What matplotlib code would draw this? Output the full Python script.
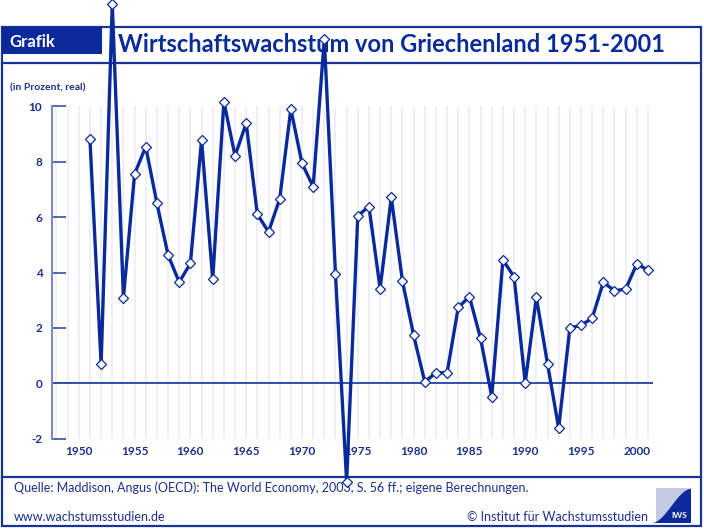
import numpy as np
import matplotlib
matplotlib.use("Agg")
import matplotlib.pyplot as plt
from matplotlib.patches import Rectangle, Polygon

# data: real GDP growth Greece (percent)
years = list(range(1951, 2002))
growth = [8.81, 0.70, 13.7, 3.09, 7.56, 8.54, 6.50, 4.63, 3.65, 4.33,
          8.78, 3.75, 10.17, 8.21, 9.39, 6.10, 5.47, 6.65, 9.90, 7.94,
          7.10, 12.43, 3.93, -3.56, 6.05, 6.38, 3.42, 6.71, 3.69, 1.74,
          0.05, 0.38, 0.38, 2.74, 3.13, 1.62, -0.48, 4.45, 3.85, 0.02,
          3.10, 0.70, -1.62, 2.00, 2.09, 2.35, 3.65, 3.34, 3.40, 4.31,
          4.09]
y_ticks = [-2, 0, 2, 4, 6, 8, 10]
x_ticks = [1950, 1955, 1960, 1965, 1970, 1975, 1980, 1985, 1990, 1995, 2000]

title = "Wirtschaftswachstum von Griechenland 1951-2001"
source = "Quelle: Maddison, Angus (OECD): The World Economy, 2003, S. 56 ff.; eigene Berechnungen."

blue = "#1a3399"
line_blue = "#0a2a9b"
text_blue = "#1a2f8f"
font = "Lato"

W, H = 704, 530
fig = plt.figure(figsize=(W / 100, H / 100), dpi=100)

# overlay in pixel coords for frame and texts
bg = fig.add_axes([0, 0, 1, 1], zorder=0)
bg.set_xlim(0, W)
bg.set_ylim(H, 0)
bg.axis("off")

# frame
bg.add_patch(Rectangle((2, 27), 699, 499, fill=False, ec=blue, lw=1.6))
bg.add_patch(Rectangle((2, 27), 100, 27, fc="#0a2a9b", ec="none"))
bg.plot([2, 701], [63, 63], color=blue, lw=1.6)
bg.plot([2, 701], [477, 477], color=blue, lw=1.6)

bg.text(9, 42, "Grafik", color="white", fontsize=12, fontweight="bold",
        family=font, va="center", ha="left")
bg.text(118, 45, title, color="#0a2a9b", fontsize=17, fontweight="bold",
        family=font, va="center", ha="left")
bg.text(10, 88, "(in Prozent, real)", color=text_blue, fontsize=7.5,
        fontweight="bold", family=font, va="center", ha="left")

bg.text(14, 488, source, color=text_blue, fontsize=9, family=font,
        va="center", ha="left")
bg.text(14, 517, "www.wachstumsstudien.de", color=text_blue, fontsize=9,
        family=font, va="center", ha="left")
bg.text(648, 517, "\u00a9 Institut f\u00fcr Wachstumsstudien", color=text_blue,
        fontsize=9, family=font, va="center", ha="right")

# logo
bg.add_patch(Rectangle((656, 488), 35, 35, fc="#c5cae3", ec="none"))
t = np.linspace(0, 1, 40)
s = t * t * (3 - 2 * t)
cx = 652 + 39 * t
cy = 523 - 34 * s
logo = np.column_stack([np.r_[cx, 691], np.r_[cy, 523]])
bg.add_patch(Polygon(logo, closed=True, fc="#0a2a9b", ec="none"))
bg.text(679, 515, "IWS", color="white", fontsize=6, fontweight="bold",
        family=font, va="center", ha="center")

# chart
ax = fig.add_axes([52 / W, 1 - 438.7 / H, 601 / W, 332.4 / H], zorder=5)
ax.patch.set_visible(False)
ax.set_xlim(1947.6, 2001.45)
ax.set_ylim(-2, 10)

for yr in range(1948, 2002):
    ax.axvline(yr, color="#ebebf5", lw=1.1, zorder=1)
ax.axhline(0, color="#3050b0", lw=1.4, zorder=2)

ax.plot(years, growth, color=line_blue, lw=2.4, marker="D", ms=5,
        mfc="white", mec=line_blue, mew=0.9, clip_on=False, zorder=4)

for sp in ["top", "right", "bottom"]:
    ax.spines[sp].set_visible(False)
ax.spines["left"].set_color("#7888c8")
ax.spines["left"].set_linewidth(1.5)

ax.set_yticks(y_ticks)
ax.set_yticklabels([str(v) for v in y_ticks])
ax.set_xticks(x_ticks)
ax.set_xticklabels([str(v) for v in x_ticks])
ax.tick_params(axis="y", direction="in", length=10, width=1.4,
               color="#5566bb", pad=7, labelsize=8.5, labelcolor=text_blue)
ax.tick_params(axis="x", length=0, pad=5, labelsize=8.5, labelcolor=text_blue)
for lab in ax.get_xticklabels() + ax.get_yticklabels():
    lab.set_family(font)
    lab.set_fontweight("bold")

fig.savefig("out.png", dpi=100)
